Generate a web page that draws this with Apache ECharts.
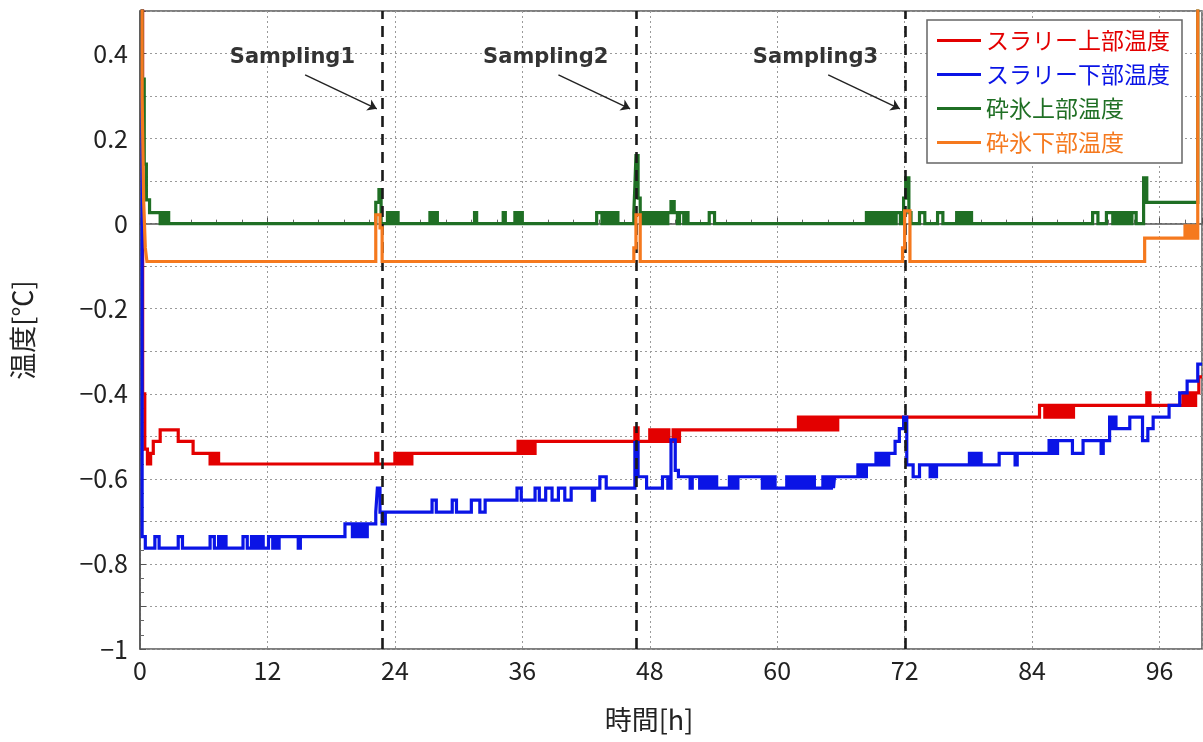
<!DOCTYPE html>
<html>
<head>
<meta charset="utf-8">
<script src="https://cdn.jsdelivr.net/npm/echarts@6/dist/echarts.min.js"></script>
<style>
html, body { margin: 0; padding: 0; background: #fff; }
#chart { width: 1203px; height: 742px; }
</style>
</head>
<body>
<div id="chart"></div>
<script>
// series names (legend order)
const seriesNames = ['スラリー上部温度', 'スラリー下部温度', '砕氷上部温度', '砕氷下部温度'];
const seriesColors = ['#e30000', '#0a14e6', '#1f6f24', '#f5791e'];

// step data: [time h, temperature °C], value holds until next time
const slurryTop = [
  [0, 0.6], [0.25, -0.4], [0.45, -0.53], [0.7, -0.565], [1.0, -0.54], [1.25, -0.512], [1.9, -0.485], [3.6, -0.512], [5.0, -0.54],
  [6.6, -0.565], [6.8, -0.54], [7.0, -0.565], [7.2, -0.54], [7.4, -0.565],
  [22.2, -0.54], [22.4, -0.565],
  [24.0, -0.54], [24.2, -0.565], [24.4, -0.54], [24.6, -0.565], [24.8, -0.54], [25.0, -0.565], [25.2, -0.54], [25.4, -0.565], [25.6, -0.54],
  [35.6, -0.512], [35.8, -0.54], [36.0, -0.512], [36.2, -0.54], [36.4, -0.512], [36.6, -0.54], [36.8, -0.512], [37.0, -0.54], [37.2, -0.512],
  [46.6, -0.48], [46.9, -0.512],
  [48.0, -0.485], [48.2, -0.512], [48.4, -0.485], [48.6, -0.512], [48.8, -0.485], [49.0, -0.512], [49.2, -0.485], [49.4, -0.512], [49.6, -0.485], [49.8, -0.512], [50.2, -0.485], [50.5, -0.512], [50.8, -0.485],
  [62.0, -0.455], [62.2, -0.485], [62.4, -0.455], [62.6, -0.485], [62.8, -0.455], [63.0, -0.485], [63.2, -0.455], [63.4, -0.485], [63.6, -0.455], [63.8, -0.485], [64.0, -0.455], [64.2, -0.485], [64.4, -0.455], [64.6, -0.485], [64.8, -0.455], [65.0, -0.485], [65.2, -0.455], [65.5, -0.485], [65.7, -0.455],
  [84.7, -0.427], [85.2, -0.455], [85.5, -0.427], [85.7, -0.455], [85.9, -0.427], [86.1, -0.455], [86.3, -0.427], [86.5, -0.455], [86.7, -0.427], [86.9, -0.455], [87.1, -0.427], [87.3, -0.455], [87.5, -0.427], [87.7, -0.455], [87.9, -0.427],
  [94.8, -0.398], [95.1, -0.427],
  [98.2, -0.398], [98.4, -0.427], [98.6, -0.398], [98.8, -0.427], [99.0, -0.398], [99.2, -0.427], [99.4, -0.398], [99.7, -0.36], [100, -0.36]
];

const slurryBottom = [
  [0, 0.6], [0.2, -0.736], [0.5, -0.763],
  [1.4, -0.736], [1.8, -0.763], [3.6, -0.736], [4.0, -0.763], [6.6, -0.736], [7.0, -0.763], [7.4, -0.736], [7.7, -0.763], [7.9, -0.736], [8.1, -0.763],
  [9.7, -0.736], [10.1, -0.763], [10.5, -0.736], [10.8, -0.763], [11.0, -0.736], [11.2, -0.763], [11.4, -0.736], [11.6, -0.763],
  [12.1, -0.736], [12.5, -0.763], [12.7, -0.736], [12.9, -0.763], [13.1, -0.736], [14.9, -0.763], [15.1, -0.736],
  [19.3, -0.706], [20.0, -0.736], [20.2, -0.706], [20.4, -0.736], [20.6, -0.706], [20.8, -0.736], [21.0, -0.706], [21.2, -0.736], [21.4, -0.706],
  [22.2, -0.678], [22.35, -0.622], [22.6, -0.678], [22.8, -0.706], [23.1, -0.678],
  [27.5, -0.65], [27.9, -0.678], [29.4, -0.65], [29.8, -0.678], [31.2, -0.65], [32.0, -0.678], [32.5, -0.65],
  [35.5, -0.622], [35.9, -0.65], [37.2, -0.622], [37.6, -0.65], [38.2, -0.622], [38.8, -0.65], [39.4, -0.622], [40.0, -0.65], [40.6, -0.622], [42.6, -0.65], [42.8, -0.622], [43.3, -0.595], [43.9, -0.622],
  [46.6, -0.515], [46.9, -0.595], [47.7, -0.622], [49.2, -0.595], [49.7, -0.622], [50.0, -0.508], [50.4, -0.58], [50.7, -0.595],
  [51.8, -0.622], [52.0, -0.595],
  [52.7, -0.622], [52.9, -0.595], [53.1, -0.622], [53.3, -0.595], [53.5, -0.622], [53.7, -0.595], [53.9, -0.622], [54.1, -0.595], [54.3, -0.622],
  [55.5, -0.595], [55.7, -0.622], [55.9, -0.595], [56.1, -0.622], [56.3, -0.595],
  [58.6, -0.622], [58.8, -0.595], [59.0, -0.622], [59.2, -0.595], [59.4, -0.622], [59.6, -0.595], [59.8, -0.622],
  [60.9, -0.595], [61.1, -0.622], [61.3, -0.595], [61.5, -0.622], [61.7, -0.595], [61.9, -0.622], [62.1, -0.595], [62.3, -0.622], [62.5, -0.595], [62.7, -0.622], [62.9, -0.595], [63.1, -0.622], [63.3, -0.595], [63.5, -0.622],
  [64.3, -0.595], [64.5, -0.622], [64.7, -0.595], [64.9, -0.622], [65.1, -0.595], [65.3, -0.622], [65.4, -0.595],
  [67.6, -0.567], [67.8, -0.595], [68.0, -0.567], [68.2, -0.595], [68.4, -0.567],
  [69.3, -0.54], [69.5, -0.567], [69.7, -0.54], [69.9, -0.567], [70.1, -0.54], [70.3, -0.567], [70.5, -0.54],
  [71.1, -0.512], [71.5, -0.482], [71.9, -0.455], [72.2, -0.567], [72.8, -0.595], [73.4, -0.567],
  [74.4, -0.595], [74.6, -0.567], [74.8, -0.595], [75.0, -0.567],
  [78.1, -0.54], [78.3, -0.567], [78.5, -0.54], [78.7, -0.567], [78.9, -0.54], [79.2, -0.567],
  [80.9, -0.54], [82.4, -0.567], [82.6, -0.54],
  [85.6, -0.51], [85.8, -0.54], [86.0, -0.51], [86.2, -0.54], [86.4, -0.51],
  [87.8, -0.54], [88.8, -0.51], [90.5, -0.54], [90.7, -0.51],
  [91.3, -0.455], [91.5, -0.482], [91.7, -0.455], [91.9, -0.482],
  [93.2, -0.455], [94.4, -0.51], [94.9, -0.482], [95.4, -0.455],
  [96.9, -0.427], [97.9, -0.398], [98.6, -0.37], [99.6, -0.33], [100, -0.33]
];

const iceTop = [
  [0, 0.6], [0.2, 0.34], [0.4, 0.14], [0.6, 0.056], [0.9, 0.026],
  [1.9, 0], [2.1, 0.026], [2.3, 0], [2.5, 0.026], [2.7, 0],
  [22.2, 0.05], [22.5, 0.08], [22.7, 0], [23.3, 0.026], [23.5, 0], [23.7, 0.026], [23.9, 0], [24.1, 0.026], [24.3, 0],
  [27.3, 0.026], [27.5, 0], [27.7, 0.026], [28.0, 0], [31.5, 0.026], [31.7, 0], [34.2, 0.026], [34.4, 0], [35.3, 0.026], [35.5, 0], [35.7, 0.026], [36.0, 0],
  [43.0, 0.026], [43.5, 0], [43.7, 0.026], [44.0, 0], [44.3, 0.026], [44.6, 0], [44.8, 0.026], [45.0, 0],
  [46.5, 0.026], [46.6, 0.09], [46.7, 0.16], [46.9, 0.06], [47.1, 0.026], [47.3, 0], [47.5, 0.026], [47.7, 0], [47.9, 0.026], [48.1, 0], [48.4, 0.026], [48.6, 0],
  [48.8, 0.026], [49.0, 0], [49.3, 0.026], [49.5, 0], [49.7, 0.026], [50.0, 0.052], [50.3, 0.026], [50.6, 0], [50.8, 0.026], [51.2, 0], [51.4, 0.026], [51.6, 0],
  [53.6, 0.026], [54.1, 0],
  [68.4, 0.026], [68.6, 0], [68.8, 0.026], [69.0, 0], [69.2, 0.026], [69.4, 0], [69.6, 0.026], [69.8, 0], [70.0, 0.026], [70.2, 0], [70.4, 0.026], [70.6, 0], [70.8, 0.026], [71.0, 0], [71.2, 0.026], [71.6, 0],
  [71.9, 0.06], [72.1, 0.108], [72.4, 0.026], [72.6, 0],
  [73.4, 0.026], [73.9, 0], [75.1, 0.026], [75.6, 0], [76.9, 0.026], [77.1, 0], [77.3, 0.026], [77.5, 0], [77.7, 0.026], [77.9, 0], [78.1, 0.026], [78.3, 0],
  [89.7, 0.026], [90.2, 0], [91.0, 0.026], [91.6, 0], [91.8, 0.026], [92.0, 0], [92.2, 0.026], [92.4, 0], [92.6, 0.026], [92.8, 0], [93.0, 0.026], [93.2, 0], [93.4, 0.026], [93.8, 0],
  [94.5, 0.108], [94.8, 0.05], [99.6, 0.6], [100, 0.6]
];

const iceBottom = [
  [0, 0.6], [0.2, 0.3], [0.35, 0.05], [0.5, -0.057], [0.65, -0.089],
  [22.2, 0.021], [22.6, -0.01], [22.8, -0.089],
  [46.5, -0.057], [46.7, 0.021], [47.1, -0.089],
  [71.8, -0.057], [72.0, 0.03], [72.5, -0.089],
  [94.6, -0.034], [98.4, -0.005], [98.6, -0.034], [98.8, -0.005], [99.0, -0.034], [99.2, -0.005], [99.4, -0.034], [99.6, 0.6], [100, 0.6]
];

// sampling times [h] and their labels
const samplingTimes = [22.85, 46.7, 72.1];
const samplingLabels = ['Sampling1', 'Sampling2', 'Sampling3'];

const FONT = "'Noto Sans CJK JP', 'Noto Sans', sans-serif";

const chart = echarts.init(document.getElementById('chart'));

const lineSeries = [slurryTop, slurryBottom, iceTop, iceBottom].map((data, i) => ({
    name: seriesNames[i],
    type: 'line',
    step: 'end',
    data: data,
    showSymbol: false,
    lineStyle: { width: 3.2, color: seriesColors[i], join: 'miter' },
    itemStyle: { color: seriesColors[i] },
    z: 2 + i
}));

const markLines = [];
samplingTimes.forEach(t => {
    markLines.push({
        xAxis: t,
        symbol: 'none',
        lineStyle: { color: '#1a1a1a', width: 2.6, type: [11, 7] }
    });
    markLines.push([
        { coord: [t - 7.3, 0.35], symbol: 'none', lineStyle: { color: '#222', width: 1.4, type: 'solid' } },
        { coord: [t - 0.55, 0.27], symbol: 'arrow', symbolSize: 9 }
    ]);
});

const markPoints = samplingTimes.map((t, i) => ({
    coord: [t - 8.5, 0.39],
    value: samplingLabels[i]
}));

const annotation = {
    name: 'annotation',
    type: 'line',
    data: [],
    z: 10,
    markLine: {
        silent: true,
        symbol: 'none',
        label: { show: false },
        animation: false,
        data: markLines
    },
    markPoint: {
        silent: true,
        symbol: 'circle',
        symbolSize: 1,
        itemStyle: { color: 'rgba(0,0,0,0)' },
        label: {
            show: true,
            position: 'inside',
            formatter: p => p.value,
            fontFamily: "'DejaVu Sans', sans-serif",
            fontWeight: 'bold',
            fontSize: 21,
            color: '#333'
        },
        data: markPoints
    }
};

const option = {
    animation: false,
    backgroundColor: '#fff',
    grid: {
        left: 140, right: 1, top: 11, bottom: 93,
        show: true, borderColor: '#555', borderWidth: 1.5
    },
    legend: {
        orient: 'vertical',
        left: 927,
        top: 20,
        padding: [9, 12, 9, 10],
        itemGap: 11,
        itemWidth: 44,
        itemHeight: 3,
        icon: 'rect',
        backgroundColor: '#fff',
        borderColor: '#666',
        borderWidth: 1.5,
        borderRadius: 0,
        textStyle: { fontFamily: FONT, fontSize: 23 },
        data: seriesNames.map((n, i) => ({ name: n, textStyle: { color: seriesColors[i] } }))
    },
    xAxis: {
        type: 'value',
        min: 0,
        max: 100,
        interval: 12,
        name: '時間[h]',
        nameLocation: 'middle',
        nameGap: 57,
        nameTextStyle: { fontFamily: FONT, fontSize: 27, color: '#222', padding: [0, 44, 0, 0] },
        axisLine: { show: true, lineStyle: { color: '#555', width: 1.5 } },
        axisTick: { show: true, inside: true, length: 6, lineStyle: { color: '#555' } },
        minorTick: { show: true, splitNumber: 5, length: 4, lineStyle: { color: '#666' } },
        axisLabel: { fontFamily: FONT, fontSize: 25, color: '#222', margin: 9, showMaxLabel: false },
        splitLine: { show: true, lineStyle: { color: '#9a9a9a', width: 1, type: [2, 3] } }
    },
    yAxis: {
        type: 'value',
        min: -1,
        max: 0.5,
        interval: 0.1,
        name: '温度[℃]',
        nameLocation: 'middle',
        nameGap: 104,
        nameRotate: 90,
        nameTextStyle: { fontFamily: FONT, fontSize: 27, color: '#222' },
        axisLine: { show: true, lineStyle: { color: '#555', width: 1.5 } },
        axisTick: { show: true, inside: true, length: 6, lineStyle: { color: '#555' } },
        minorTick: { show: true, splitNumber: 3, length: 4, lineStyle: { color: '#666' } },
        axisLabel: {
            fontFamily: FONT, fontSize: 25, color: '#222', margin: 12,
            formatter: v => {
                const k = Math.round(v * 10);
                if (k % 2 !== 0) return '';
                if (k === 0) return '0';
                return (k < 0 ? '\u2212' : '') + (Math.abs(k) / 10);
            }
        },
        splitLine: { show: true, lineStyle: { color: '#9a9a9a', width: 1, type: [2, 3] } }
    },
    series: lineSeries.concat([annotation])
};

chart.setOption(option);
</script>
</body>
</html>
